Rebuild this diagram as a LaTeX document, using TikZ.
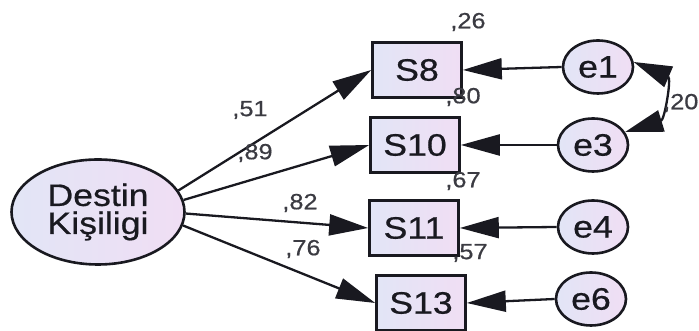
\documentclass[tikz,border=0pt]{standalone}
\usepackage{fontspec}
\setmainfont{Liberation Sans}[FakeStretch=1.15,FakeBold=0.6]
\usetikzlibrary{arrows.meta,shapes.geometric}
\usepackage{xcolor}
\definecolor{semBlue}{RGB}{226,229,246}
\definecolor{semPink}{RGB}{240,222,244}
\definecolor{semInk}{RGB}{25,25,32}

\begin{document}
\begin{tikzpicture}[x=1pt,y=1pt,
        latent/.style={ellipse,draw=semInk,line width=2.6pt,left color=semBlue,right color=semPink,
            inner sep=0pt,text=semInk,font=\fontsize{31}{28}\selectfont,align=center},
        observed/.style={rectangle,draw=semInk,line width=2.6pt,left color=semBlue,right color=semPink,
            minimum width=89pt,minimum height=55pt,inner sep=0pt,text=semInk,font=\fontsize{31}{28}\selectfont},
        errvar/.style={latent,minimum width=70pt,minimum height=53pt},
        coef/.style={text=semInk!85,font=\fontsize{22}{24}\selectfont,inner sep=0pt},
        regpath/.style={-{Triangle[length=39pt,width=21pt]},line width=2.3pt,draw=semInk},
        covpath/.style={{Triangle[length=38pt,width=22pt]}-{Triangle[length=38pt,width=22pt]},line width=2.3pt,draw=semInk}]

        \useasboundingbox (0,0) rectangle (699,331);

        % latent factor
        \node[latent,minimum width=173pt,minimum height=105pt] (dk) at (98,119) {Destin\\Kişiligi};

        % items
        \node[observed] (s8) at (417,261) {S8};
        \node[observed] (s10) at (415,186) {S10};
        \node[observed] (s11) at (414,103) {S11};
        \node[observed] (s13) at (421,28) {S13};

        % error terms
        \node[errvar] (e1) at (598,264) {e1};
        \node[errvar] (e3) at (593,186) {e3};
        \node[errvar] (e4) at (593,104) {e4};
        \node[errvar] (e6) at (591,32) {e6};

        % loadings
        \draw[regpath] (dk.15) -- (s8.west);
        \draw[regpath] (dk.8) -- (s10.west);
        \draw[regpath] (dk.-1) -- (s11.west);
        \draw[regpath] (dk.-9) -- (s13.west);

        \draw[regpath] (e1.west) -- (s8.east);
        \draw[regpath] (e3.west) -- (s10.east);
        \draw[regpath] (e4.west) -- (s11.east);
        \draw[regpath] (e6.west) -- (s13.east);

        % error covariance
        \draw[covpath] (e1.8) to[out=-23,in=17,looseness=1.5] (e3.22);

        % estimates
        \node[coef] (l51) at (250,221) {,51};
        \node[coef] (l89) at (255,178) {,89};
        \node[coef] (l82) at (300,128) {,82};
        \node[coef] (l76) at (303,82) {,76};
        \node[coef] (r26) at (468,309) {,26};
        \node[coef] (r80) at (463,234) {,80};
        \node[coef] (r67) at (463,150) {,67};
        \node[coef] (r57) at (470,78) {,57};
        \node[coef,anchor=west] (c20) at (663,228) {,20};

    \end{tikzpicture}
\end{document}
